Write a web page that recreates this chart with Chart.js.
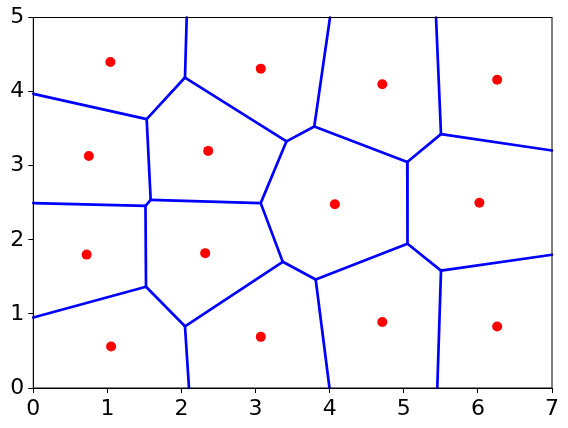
<!DOCTYPE html>
<html>
<head>
<meta charset="utf-8">
<script src="https://cdn.jsdelivr.net/npm/chart.js@4/dist/chart.umd.min.js"></script>
<style>
  html, body { margin: 0; padding: 0; background: #fff; }
  #wrap { width: 568px; height: 428px; }
</style>
</head>
<body>
<div id="wrap"><canvas id="chart" width="568" height="428"></canvas></div>
<script>
/* ---------- data ---------- */
// seed points
const seedX = [1.04, 3.07, 4.71, 6.26, 0.75, 2.36, 4.07, 6.02, 0.72, 2.32, 1.05, 3.07, 4.71, 6.26];
const seedY = [4.40, 4.31, 4.10, 4.16, 3.13, 3.20, 2.48, 2.50, 1.80, 1.82, 0.56, 0.69, 0.89, 0.83];

// voronoi vertices (A..Z)
const vertX = [1.530, 2.047, 2.070, 0.000, 3.417, 3.792, 4.004, 5.047, 5.502, 5.435, 7.000, 1.584, 1.514,
               0.000, 3.069, 3.366, 3.811, 5.050, 5.502, 7.000, 1.521, 0.000, 2.047, 2.101, 3.997, 5.452];
const vertY = [3.629, 4.190, 5.000, 3.970, 3.329, 3.529, 5.000, 3.050, 3.426, 5.000, 3.205, 2.540, 2.459,
               2.495, 2.495, 1.703, 1.464, 1.946, 1.584, 1.798, 1.366, 0.951, 0.833, 0.000, 0.000, 0.000];

// ridges as vertex index pairs
const edgeFrom = [3, 0, 1, 0, 11, 12, 11, 1, 4, 4, 5, 5, 7, 8, 8, 7, 14, 15, 16, 17, 18, 18, 16, 15, 22, 22, 20, 20];
const edgeTo   = [0, 1, 2, 11, 12, 13, 14, 4, 14, 5, 6, 7, 8, 9, 10, 17, 15, 16, 17, 18, 19, 25, 24, 22, 23, 20, 21, 12];

const xTicks = [0, 1, 2, 3, 4, 5, 6, 7];
const yTicks = [0, 1, 2, 3, 4, 5];

/* ---------- datasets ---------- */
const datasets = [];

edgeFrom.forEach((a, i) => {
  const b = edgeTo[i];
  datasets.push({
    data: [{ x: vertX[a], y: vertY[a] }, { x: vertX[b], y: vertY[b] }],
    showLine: true,
    borderColor: "#0000ff",
    borderWidth: 2.7,
    pointRadius: 0,
    borderCapStyle: "round",
  });
});

const seeds = seedX.map((x, i) => ({ x, y: seedY[i] }));

datasets.push({
  data: seeds,
  pointRadius: 5,
  pointBackgroundColor: "#ff0000",
  pointBorderWidth: 0,
  showLine: false,
});

// small green marker in the middle of each red dot
datasets.push({
  data: seeds,
  pointRadius: 1,
  pointBackgroundColor: "#008000",
  pointBorderWidth: 0,
  showLine: false,
});

/* ---------- box around plot area ---------- */
const frame = {
  id: "frame",
  afterDatasetsDraw(chart) {
    const { ctx, chartArea: a } = chart;
    ctx.save();
    ctx.strokeStyle = "#000";
    ctx.lineWidth = 1;
    ctx.strokeRect(a.left, a.top, a.right - a.left, a.bottom - a.top);
    ctx.restore();
  },
};

const tickFont = { family: "DejaVu Sans", size: 22 };

new Chart(document.getElementById("chart"), {
  type: "scatter",
  data: { datasets },
  options: {
    responsive: false,
    animation: false,
    events: [],
    clip: false,
    layout: { padding: { top: 17.5, right: 16, left: 0, bottom: 0 } },
    plugins: { legend: { display: false }, tooltip: { enabled: false } },
    scales: {
      x: {
        type: "linear",
        min: 0,
        max: 7,
        afterBuildTicks: (s) => { s.ticks = xTicks.map((v) => ({ value: v })); },
        afterFit: (s) => { s.height = 40; },
        grid: { drawOnChartArea: false, drawTicks: true, tickLength: 5, color: "#000" },
        border: { color: "#000", width: 1 },
        ticks: { color: "#000", font: tickFont, padding: 3, maxRotation: 0 },
      },
      y: {
        type: "linear",
        min: 0,
        max: 5,
        afterBuildTicks: (s) => { s.ticks = yTicks.map((v) => ({ value: v })); },
        afterFit: (s) => { s.width = 33.3; },
        grid: { drawOnChartArea: false, drawTicks: true, tickLength: 5, color: "#000" },
        border: { color: "#000", width: 1 },
        ticks: { color: "#000", font: tickFont, padding: 4 },
      },
    },
  },
  plugins: [frame],
});
</script>
</body>
</html>
